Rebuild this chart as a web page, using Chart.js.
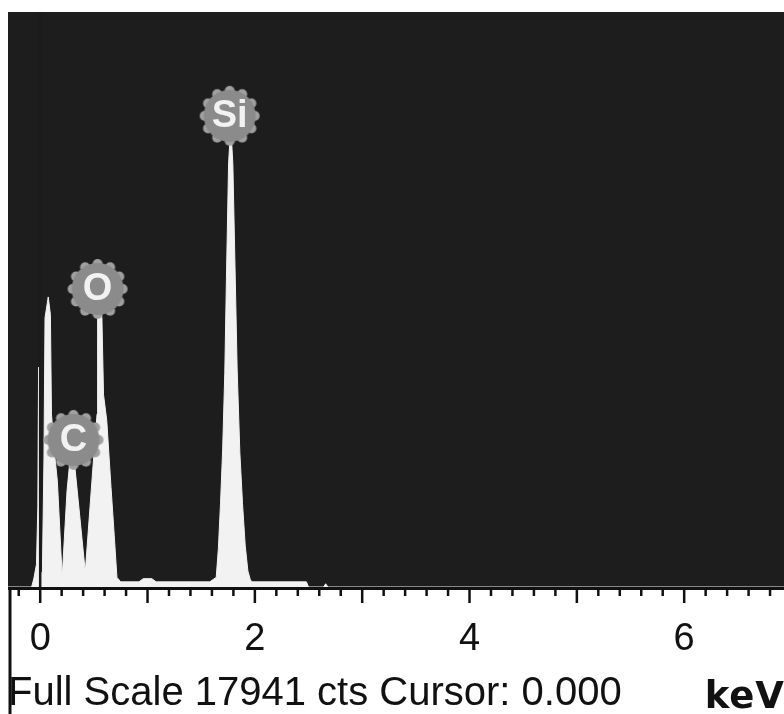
<!DOCTYPE html>
<html>
<head>
<meta charset="utf-8">
<script src="https://cdn.jsdelivr.net/npm/chart.js@4.4.0/dist/chart.umd.min.js"></script>
<style>
    html, body { margin: 0; padding: 0; background: #fff; }
    #wrap { width: 784px; height: 714px; position: relative; }
</style>
</head>
<body>
<div id="wrap"><canvas id="spectrum" width="784" height="714"></canvas></div>
<script>
// EDS spectrum: energy (keV) and counts
const energyKeV = [
    -0.30, -0.08, -0.06, -0.035, -0.022, -0.015, -0.008, 0.0,
    0.02, 0.035, 0.045, 0.075, 0.095, 0.105, 0.13, 0.16, 0.205,
    0.25, 0.27, 0.295, 0.32, 0.42,
    0.495, 0.53, 0.535, 0.555, 0.575, 0.59, 0.62, 0.66, 0.69, 0.715, 0.75,
    0.92, 0.96, 1.04, 1.08, 1.58,
    1.64, 1.66, 1.68, 1.70, 1.72, 1.735, 1.755, 1.775, 1.795, 1.815, 1.835, 1.86, 1.885, 1.91, 1.935, 1.96, 1.98,
    2.48, 2.50, 2.64, 2.66, 2.68, 7.0
];
const counts = [
    0, 0, 250, 700, 2500, 6860, 2500, 500,
    400, 4000, 8400, 9050, 8500, 5400, 4300, 3300, 310,
    3000, 3700, 4300, 3850, 470,
    3900, 5400, 8400, 8800, 8400, 6000, 5200, 3100, 1600, 300, 160,
    160, 260, 260, 160, 160,
    300, 1200, 2600, 4300, 6700, 9600, 13200, 14400, 13200, 10000, 6800, 4200, 2600, 1300, 500, 200, 160,
    160, 0, 0, 100, 0, 0
];

// element markers
const peakNames = ['C', 'O', 'Si'];
const peakEnergy = [0.31, 0.535, 1.765];
const peakCounts = [4590, 9300, 14700];

const fullScale = 17941;
const cursorKeV = [0, 0];
const cursorCounts = [0, fullScale];

function makeMarker() {
    const c = document.createElement('canvas');
    c.width = 64;
    c.height = 64;
    const g = c.getContext('2d');
    g.fillStyle = '#a0a0a0';
    for (let i = 0; i < 12; i++) {
        const a = i * Math.PI / 6 - Math.PI / 2;
        g.beginPath();
        g.arc(32 + Math.cos(a) * 25, 32 + Math.sin(a) * 25, 5, 0, Math.PI * 2);
        g.fill();
    }
    g.fillStyle = '#8b8b8b';
    g.beginPath();
    g.arc(32, 32, 26, 0, Math.PI * 2);
    g.fill();
    return c;
}

const edsFrame = {
    id: 'edsFrame',
    beforeDraw(chart) {
        const { ctx, chartArea: a } = chart;
        ctx.save();
        ctx.fillStyle = '#1d1d1d';
        ctx.fillRect(a.left, a.top, a.right - a.left, a.bottom - a.top);
        ctx.restore();
    },
    afterDatasetsDraw(chart) {
        const { ctx } = chart;
        const meta = chart.getDatasetMeta(0);
        ctx.save();
        ctx.font = 'bold 38px "Liberation Sans", Arial, sans-serif';
        ctx.fillStyle = '#f2f2f2';
        ctx.textAlign = 'center';
        ctx.textBaseline = 'middle';
        meta.data.forEach((pt, i) => {
            ctx.fillText(peakNames[i], pt.x, pt.y + 1);
        });
        ctx.restore();
    },
    afterDraw(chart) {
        const { ctx, chartArea: a } = chart;
        const x = chart.scales.x;
        ctx.save();
        ctx.strokeStyle = '#111';
        // axis line
        ctx.lineWidth = 3;
        ctx.beginPath();
        ctx.moveTo(a.left, a.bottom + 1.5);
        ctx.lineTo(a.right, a.bottom + 1.5);
        ctx.stroke();
        // left rule below the plot
        ctx.beginPath();
        ctx.moveTo(10, a.bottom);
        ctx.lineTo(10, chart.height);
        ctx.stroke();
        // tick marks, long ones every keV
        ctx.lineWidth = 2.5;
        x.ticks.forEach(t => {
            const px = x.getPixelForValue(t.value);
            const major = Math.round(t.value * 10) % 10 === 0;
            ctx.beginPath();
            ctx.moveTo(px, a.bottom);
            ctx.lineTo(px, a.bottom + (major ? 16 : 9));
            ctx.stroke();
        });
        // unit
        ctx.fillStyle = '#111';
        ctx.font = 'bold 37px "DejaVu Sans", sans-serif';
        ctx.letterSpacing = '1px';
        ctx.textAlign = 'right';
        ctx.textBaseline = 'alphabetic';
        ctx.fillText('keV', 785, 708);
        ctx.restore();
    }
};

new Chart(document.getElementById('spectrum'), {
    type: 'line',
    data: {
        datasets: [
            {
                type: 'scatter',
                data: peakEnergy.map((e, i) => ({ x: e, y: peakCounts[i] })),
                pointStyle: makeMarker(),
                pointRadius: 1,
                showLine: false
            },
            {
                data: cursorKeV.map((e, i) => ({ x: e, y: cursorCounts[i] })),
                borderColor: '#1b1b1b',
                borderWidth: 2.5,
                pointRadius: 0,
                fill: false
            },
            {
                data: energyKeV.map((e, i) => ({ x: e, y: counts[i] })),
                borderColor: '#f2f2f2',
                backgroundColor: '#f2f2f2',
                borderWidth: 1,
                pointRadius: 0,
                tension: 0,
                fill: 'origin'
            }
        ]
    },
    options: {
        responsive: false,
        animation: false,
        events: [],
        layout: { autoPadding: false, padding: { top: 12, left: 8, right: 0, bottom: 0 } },
        plugins: {
            legend: { display: false },
            tooltip: { enabled: false }
        },
        scales: {
            x: {
                type: 'linear',
                min: -0.3,
                max: 6.93,
                afterFit: scale => {
                    scale.height = 127;
                    scale.paddingLeft = 0;
                    scale.paddingRight = 0;
                },
                grid: { display: false, drawTicks: false },
                border: { display: false },
                ticks: {
                    stepSize: 0.2,
                    includeBounds: false,
                    autoSkip: false,
                    maxRotation: 0,
                    padding: 30,
                    color: '#111',
                    font: { family: '"Liberation Sans", Arial, sans-serif', size: 38 },
                    callback: v => (Math.round(v * 10) % 20 === 0 ? String(Math.round(v)) : '')
                },
                title: {
                    display: true,
                    text: 'Full Scale 17941 cts Cursor: 0.000',
                    align: 'start',
                    color: '#111',
                    padding: { top: 0, bottom: -4 },
                    font: { family: '"Liberation Sans", Arial, sans-serif', size: 40 }
                }
            },
            y: {
                display: false,
                min: 0,
                max: fullScale
            }
        }
    },
    plugins: [edsFrame]
});
</script>
</body>
</html>
